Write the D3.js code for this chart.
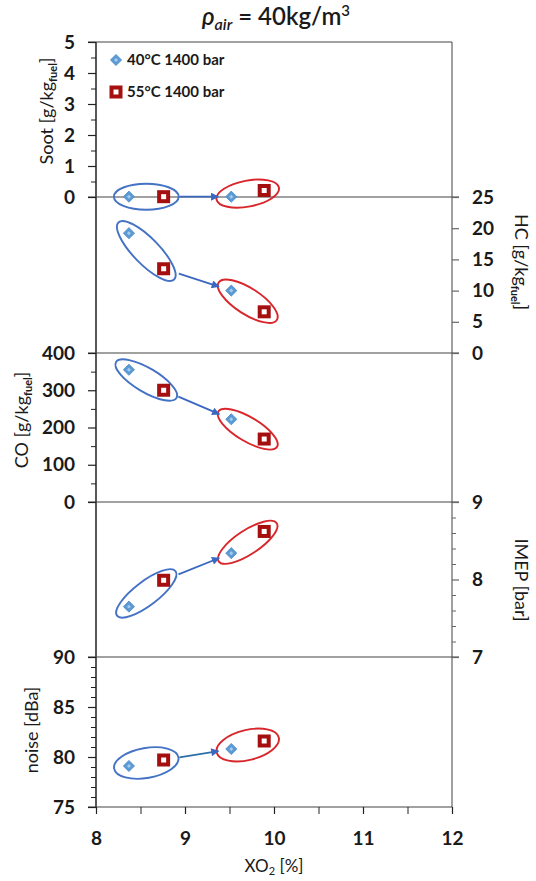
<!DOCTYPE html>
<html>
<head>
<meta charset="utf-8">
<script src="https://cdn.jsdelivr.net/npm/d3@7"></script>
<style>
  body { margin: 0; background: #fff; }
  svg text { font-family: Lato, "Open Sans", sans-serif; fill: #1a1a1a; }
</style>
</head>
<body>
<svg id="chart" width="536" height="881"></svg>
<script>
// Measured operating points (x = exhaust O2 fraction)
const xo2Values   = [8.37, 8.76, 9.52, 9.89];
const pointSeries = [0, 1, 0, 1];
const seriesNames = ["40°C 1400 bar", "55°C 1400 bar"];
const sootValues  = [0.01, 0.01, 0.01, 0.21];
const hcValues    = [19.2, 13.5, 10.0, 6.6];
const coValues    = [355, 300, 222, 169];
const imepValues  = [7.65, 7.99, 8.34, 8.62];
const noiseValues = [79.1, 79.7, 80.8, 81.6];

// Tick labels
const xTicks     = [8, 9, 10, 11, 12];
const sootTicks  = [0, 1, 2, 3, 4, 5];
const hcTicks    = [0, 5, 10, 15, 20, 25];
const coTicks    = [0, 100, 200, 300, 400];
const imepTicks  = [7, 8, 9];
const noiseTicks = [75, 80, 85, 90];

const svg = d3.select("#chart");
const plotLeft = 96, plotRight = 452;
const bounds = [42, 197, 353, 502, 657, 807];
const tickFont = "bold 19px Lato, sans-serif";
const fmt = d3.format("d");

const x = d3.scaleLinear().domain([8, 12]).range([plotLeft, plotRight]);

const panels = [
  { values: sootValues,  domain: [0, 5],    ticks: sootTicks,  minorStep: 0.5, side: "left",
    title: ["Soot [g/kg", "fuel", "]"], tx: 47, ty: 111, ry: 13 },
  { values: hcValues,    domain: [0, 25],   ticks: hcTicks,    minorStep: null, side: "right",
    title: ["HC [g/kg", "fuel", "]"], tx: 521, ty: 262, ry: 13 },
  { values: coValues,    domain: [0, 400],  ticks: coTicks,    minorStep: 50, side: "left",
    title: ["CO [g/kg", "fuel", "]"], tx: 22, ty: 420, ry: 12 },
  { values: imepValues,  domain: [7, 9],    ticks: imepTicks,  minorStep: 0.2, side: "right",
    title: ["IMEP [bar]"], tx: 521, ty: 580, ry: 12 },
  { values: noiseValues, domain: [75, 90],  ticks: noiseTicks, minorStep: 1, side: "left",
    title: ["noise [dBa]"], tx: 32, ty: 730, ry: 15 }
];

// Arrow head marker for the shift arrows
const defs = svg.append("defs");
defs.append("marker")
  .attr("id", "arrowHead")
  .attr("viewBox", "0 0 10 10")
  .attr("refX", 9).attr("refY", 5)
  .attr("markerWidth", 10).attr("markerHeight", 8)
  .attr("markerUnits", "userSpaceOnUse")
  .attr("orient", "auto")
  .append("path").attr("d", "M0,0 L10,5 L0,10 Z").attr("fill", "#3A68C0");

// Frame: left axis (black), right axis (grey), panel dividers
svg.append("line").attr("x1", plotLeft).attr("x2", plotLeft)
  .attr("y1", bounds[0]).attr("y2", bounds[5])
  .attr("stroke", "#111").attr("stroke-width", 1.4);
svg.append("line").attr("x1", plotRight).attr("x2", plotRight)
  .attr("y1", bounds[0]).attr("y2", bounds[5])
  .attr("stroke", "#777").attr("stroke-width", 1.4);
bounds.forEach((b, i) => {
  const inner = i > 0 && i < bounds.length - 1;
  svg.append("line")
    .attr("x1", plotLeft - 8).attr("x2", inner ? plotRight + 7 : plotRight)
    .attr("y1", b).attr("y2", b)
    .attr("stroke", "#444").attr("stroke-width", 1.2);
});

panels.forEach((p, i) => {
  const y = d3.scaleLinear().domain(p.domain).range([bounds[i + 1], bounds[i]]);
  const isLeft = p.side === "left";
  const axisX = isLeft ? plotLeft : plotRight;
  const mk = isLeft ? d3.axisLeft : d3.axisRight;

  if (p.minorStep) {
    const minor = d3.range(p.domain[0], p.domain[1] + p.minorStep / 2, p.minorStep)
      .filter(v => !p.ticks.some(t => Math.abs(t - v) < 1e-6));
    const gMinor = svg.append("g").attr("transform", `translate(${axisX},0)`)
      .call(mk(y).tickValues(minor).tickSize(isLeft ? 5 : 4).tickFormat(""));
    gMinor.select(".domain").remove();
    gMinor.selectAll("line").attr("stroke", isLeft ? "#222" : "#666").attr("stroke-width", 1);
  }
  const gMajor = svg.append("g").attr("transform", `translate(${axisX},0)`)
    .call(mk(y).tickValues(p.ticks).tickFormat(fmt).tickSize(isLeft ? 8 : 7).tickPadding(13));
  gMajor.select(".domain").remove();
  gMajor.selectAll("line").attr("stroke", isLeft ? "#222" : "#666").attr("stroke-width", 1.2);
  gMajor.selectAll("text").style("font", tickFont).attr("fill", "#1a1a1a");

  // Axis title (rotated, with optional "fuel" subscript)
  const t = svg.append("text")
    .attr("transform", `translate(${p.tx},${p.ty}) rotate(${isLeft ? -90 : 90})`)
    .attr("text-anchor", "middle")
    .attr("dy", "0.35em")
    .style("font-size", "18px");
  t.append("tspan").text(p.title[0]);
  if (p.title.length > 1) {
    t.append("tspan").text(p.title[1]).attr("dy", 4)
      .style("font-size", "11px").style("font-weight", "bold");
    t.append("tspan").text(p.title[2]).attr("dy", -4);
  }

  // Group ellipses and shift arrow
  const pts = xo2Values.map((v, k) => [x(v), y(p.values[k])]);
  const groups = [[0, 1, "#4472C4"], [2, 3, "#D9262B"]];
  groups.forEach(([a, b, col]) => {
    const cx = (pts[a][0] + pts[b][0]) / 2, cy = (pts[a][1] + pts[b][1]) / 2;
    const dx = pts[b][0] - pts[a][0], dy = pts[b][1] - pts[a][1];
    const half = Math.hypot(dx, dy) / 2;
    const ang = Math.atan2(dy, dx) * 180 / Math.PI;
    svg.append("ellipse")
      .attr("transform", `translate(${cx},${cy}) rotate(${ang})`)
      .attr("rx", half + 15).attr("ry", p.ry)
      .attr("fill", "none").attr("stroke", col).attr("stroke-width", 1.9);
  });
  const s = pts[1], e = pts[2];
  const len = Math.hypot(e[0] - s[0], e[1] - s[1]);
  const ux = (e[0] - s[0]) / len, uy = (e[1] - s[1]) / len;
  const arrowCol = i === 4 ? "#2E6FA8" : "#3A68C0";
  svg.append("line")
    .attr("x1", s[0] + ux * 16).attr("y1", s[1] + uy * 16)
    .attr("x2", e[0] - ux * 13).attr("y2", e[1] - uy * 13)
    .attr("stroke", arrowCol).attr("stroke-width", 1.8)
    .attr("marker-end", "url(#arrowHead)");

  // Data markers
  pts.forEach((pt, k) => drawMarker(pointSeries[k], pt[0], pt[1]));
});

function drawMarker(series, cx, cy) {
  const g = svg.append("g").attr("transform", `translate(${cx},${cy})`);
  if (series === 0) {
    g.append("path").attr("d", d3.symbol(d3.symbolSquare, 62)())
      .attr("transform", "rotate(45)")
      .attr("fill", "#5B9BD5").attr("stroke", "#4F8BC9").attr("stroke-width", 0.8);
    g.append("path").attr("d", d3.symbol(d3.symbolSquare, 8)())
      .attr("transform", "rotate(45)").attr("fill", "#A9CBEB");
  } else {
    g.append("rect").attr("x", -4.5).attr("y", -4.5).attr("width", 9).attr("height", 9)
      .attr("fill", "#fff").attr("stroke", "#A50F0F").attr("stroke-width", 4);
  }
}

// X axis
const gxMinor = svg.append("g").attr("transform", `translate(0,${bounds[5]})`)
  .call(d3.axisBottom(x).tickValues(d3.range(8.5, 12, 1)).tickSize(7).tickFormat(""));
gxMinor.select(".domain").remove();
gxMinor.selectAll("line").attr("stroke", "#222");
const gx = svg.append("g").attr("transform", `translate(0,${bounds[5]})`)
  .call(d3.axisBottom(x).tickValues(xTicks).tickFormat(fmt).tickSize(7).tickPadding(18));
gx.select(".domain").remove();
gx.selectAll("line").attr("stroke", "#222").attr("stroke-width", 1.2);
gx.selectAll("text").style("font", tickFont).attr("fill", "#1a1a1a");

const xt = svg.append("text").attr("x", 274).attr("y", 872)
  .attr("text-anchor", "middle").style("font-size", "17px");
xt.append("tspan").text("XO");
xt.append("tspan").text("2").attr("dy", 3).style("font-size", "11px");
xt.append("tspan").text(" [%]").attr("dy", -3);

// Title
const title = svg.append("text").attr("x", 276).attr("y", 25)
  .attr("text-anchor", "middle").style("font-size", "24px").style("font-weight", 600);
title.append("tspan").text("ρ").style("font-style", "italic");
title.append("tspan").text("air").attr("dy", 5).style("font-style", "italic").style("font-size", "16px");
title.append("tspan").text(" = 40kg/m").attr("dy", -5);
title.append("tspan").text("3").attr("dy", -9).style("font-size", "15px");

// Legend
seriesNames.forEach((name, k) => {
  const ly = k === 0 ? 60 : 92;
  drawMarker(k, 116, ly);
  svg.append("text").attr("x", 127).attr("y", ly).attr("dy", "0.35em")
    .style("font", "bold 15px Lato, sans-serif").text(name);
});
</script>
</body>
</html>
